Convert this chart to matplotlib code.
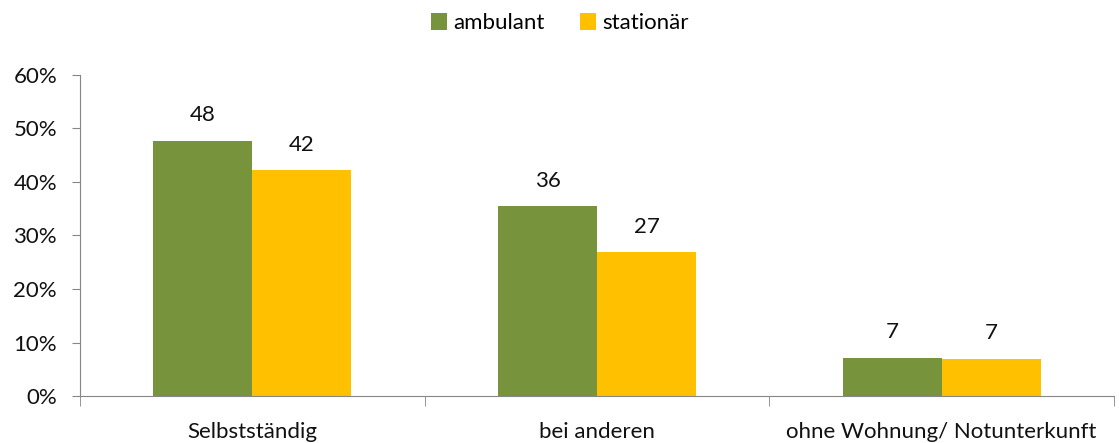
import matplotlib.pyplot as plt
import numpy as np

plt.rcParams['font.family'] = ['Lato', 'DejaVu Sans']

categories = ["Selbstständig", "bei anderen", "ohne Wohnung/ Notunterkunft"]
ambulant = [47.7, 35.5, 7.2]
stationaer = [42.2, 26.9, 7.0]
ambulant_labels = ["48", "36", "7"]
stationaer_labels = ["42", "27", "7"]

GREEN = "#77933C"
YELLOW = "#FFC000"
AXIS = "#868686"
FS = 16

fig = plt.figure(figsize=(11.19, 4.43), dpi=100)
ax = fig.add_axes([0.0715, 0.106, 0.924, 0.725])

x = np.arange(len(categories))
w = 0.287
b1 = ax.bar(x - w / 2, ambulant, w, color=GREEN, label="ambulant")
b2 = ax.bar(x + w / 2, stationaer, w, color=YELLOW, label="stationär")

for bars, labels in ((b1, ambulant_labels), (b2, stationaer_labels)):
    for bar, lab in zip(bars, labels):
        ax.annotate(lab, (bar.get_x() + bar.get_width() / 2, bar.get_height()),
                    xytext=(0, 11), textcoords="offset points",
                    ha="center", va="bottom", fontsize=FS, color="#111111")

ax.set_xlim(-0.5, len(categories) - 0.5)
ax.set_ylim(0, 60)
ax.set_yticks(range(0, 61, 10))
ax.set_yticklabels([f"{v}%" for v in range(0, 61, 10)], fontsize=FS, color="#111111")

ax.set_xticks(x)
ax.set_xticklabels(categories, fontsize=FS, color="#111111")
ax.tick_params(axis="x", length=0, pad=19)
ax.set_xticks(np.arange(-0.5, len(categories)), minor=True)
ax.tick_params(axis="x", which="minor", length=7, color=AXIS)
ax.tick_params(axis="y", length=5.5, color=AXIS, pad=11)

for s in ("top", "right"):
    ax.spines[s].set_visible(False)
for s in ("left", "bottom"):
    ax.spines[s].set_color(AXIS)

fig.legend(loc="upper center", bbox_to_anchor=(0.5, 1.015), ncol=2, frameon=False,
           fontsize=FS, handlelength=0.75, handleheight=0.75, handletextpad=0.25,
           columnspacing=1.6)

fig.savefig("out.png", dpi=100)
